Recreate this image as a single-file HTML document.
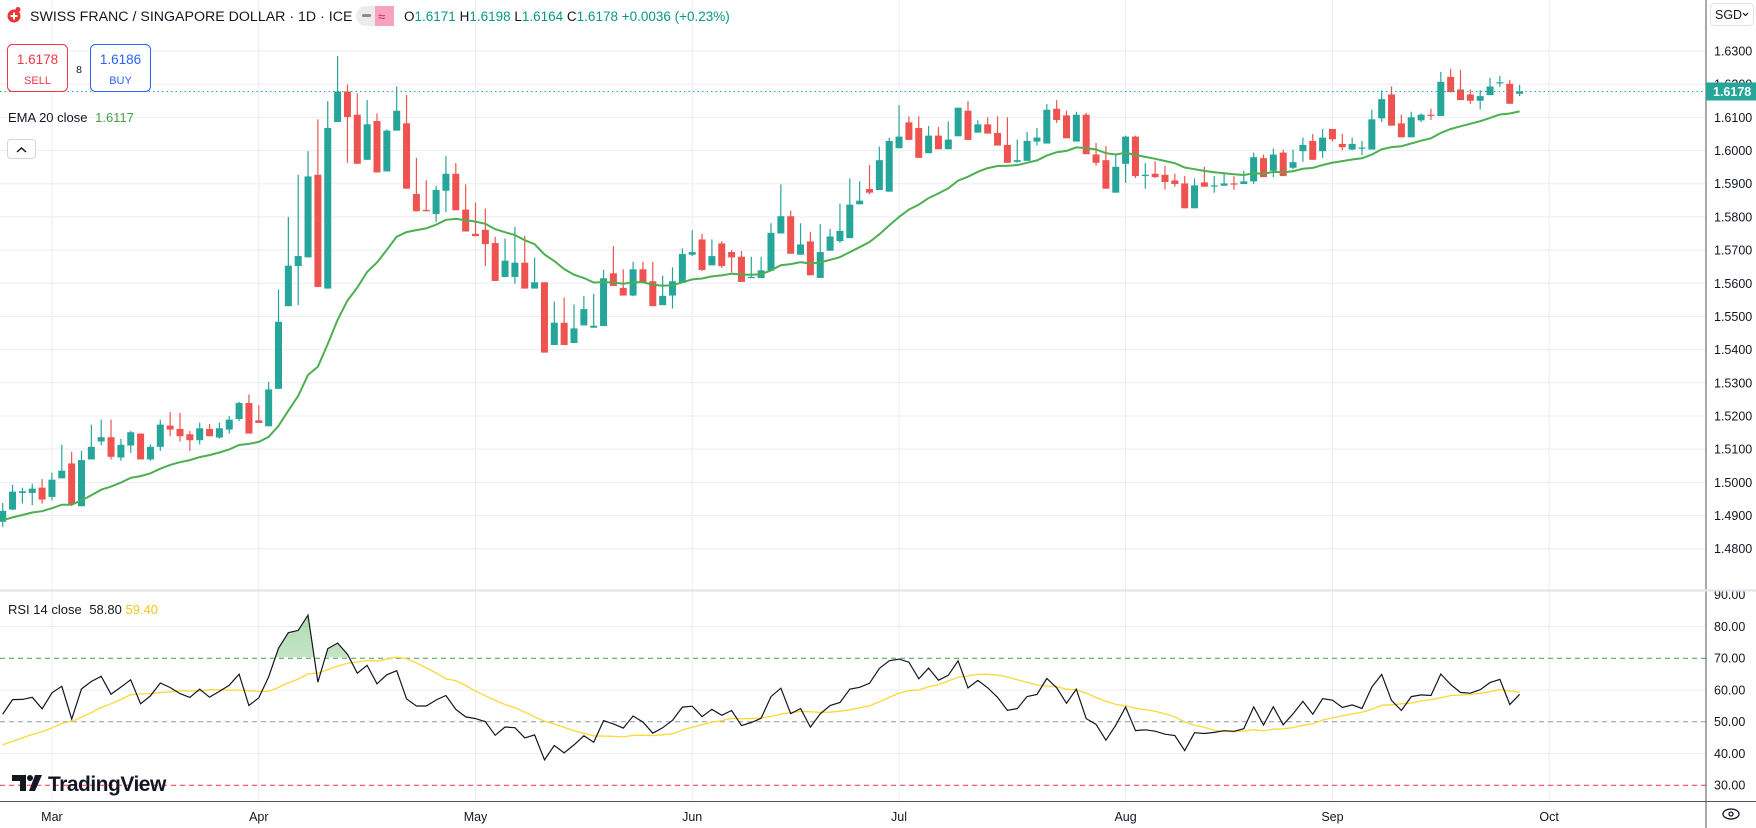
<!DOCTYPE html>
<html><head><meta charset="utf-8"><style>
html,body{margin:0;padding:0;background:#fff;}
svg{display:block;font-family:"Liberation Sans",sans-serif;}
</style></head><body>
<svg id="chart" width="1756" height="828" viewBox="0 0 1756 828" xmlns="http://www.w3.org/2000/svg">
<defs>
<clipPath id="obClip"><rect x="0" y="0" width="1706" height="657.3"/></clipPath>
<linearGradient id="obGrad" x1="0" y1="0" x2="0" y2="1"><stop offset="0" stop-color="#4caf50" stop-opacity="0.45"/><stop offset="1" stop-color="#4caf50" stop-opacity="0.03"/></linearGradient>
</defs>
<g id="grid"></g>
<g id="rsiPane"></g>
<g id="candles"></g>
<g id="axes"></g>

<g>
  <circle cx="14" cy="16" r="6.5" fill="#e53935"/>
  <path d="M14 12.5v7M10.5 16h7" stroke="#fff" stroke-width="2"/>
  <circle cx="18" cy="9.5" r="2.5" fill="#e53935"/>
  <text x="30" y="21" font-size="14.2" fill="#131722">SWISS FRANC / SINGAPORE DOLLAR · 1D · ICE</text>
  <rect x="356" y="6" width="38" height="20" rx="10" fill="#ececec"/>
  <rect x="375" y="6" width="19" height="20" fill="#f7a3c0"/>
  <rect x="362" y="14" width="9" height="3" rx="1.5" fill="#8a8a8a"/>
  <text x="378" y="21" font-size="13" fill="#d81b60">≈</text>
  <text x="404" y="21" font-size="13.5" fill="#089981"><tspan fill="#131722">O</tspan>1.6171 <tspan fill="#131722">H</tspan>1.6198 <tspan fill="#131722">L</tspan>1.6164 <tspan fill="#131722">C</tspan>1.6178 +0.0036 (+0.23%)</text>
  <g>
    <rect x="7.5" y="44.5" width="60" height="47" rx="5" fill="#fff" stroke="#f23645"/>
    <text x="37.5" y="64" font-size="13.5" fill="#f23645" text-anchor="middle">1.6178</text>
    <text x="37.5" y="84" font-size="11" fill="#f23645" text-anchor="middle">SELL</text>
  </g>
  <text x="79" y="73" font-size="10.5" fill="#131722" text-anchor="middle">8</text>
  <g>
    <rect x="90.5" y="44.5" width="60" height="47" rx="5" fill="#fff" stroke="#2962ff"/>
    <text x="120.5" y="64" font-size="13.5" fill="#2962ff" text-anchor="middle">1.6186</text>
    <text x="120.5" y="84" font-size="11" fill="#2962ff" text-anchor="middle">BUY</text>
  </g>
  <text x="8" y="122" font-size="13" fill="#131722">EMA 20 close <tspan fill="#43a047" dx="4">1.6117</tspan></text>
  <g>
    <rect x="7.5" y="139.5" width="28" height="19" rx="3" fill="#fff" stroke="#d6d6d6"/>
    <path d="M17 152 L21.5 148 L26 152" fill="none" stroke="#131722" stroke-width="1.5"/>
  </g>
  <text x="8" y="614" font-size="13" fill="#131722">RSI 14 close <tspan dx="4">58.80</tspan> <tspan fill="#f5c518">59.40</tspan></text>
  <g>
    <path d="M12 775h14v16h-6v-10h-8z" fill="#131722"/>
    <circle cx="30" cy="778" r="3" fill="#131722"/>
    <path d="M35 775h7l-7 16h-6z" fill="#131722"/>
    <text x="48" y="791" font-size="21" font-weight="bold" fill="#131722" letter-spacing="-0.5">TradingView</text>
  </g>
  <g>
    <rect x="1710.5" y="3.5" width="43" height="22" rx="4" fill="#fff" stroke="#e0e3eb"/>
    <text x="1715" y="19" font-size="12.5" fill="#131722">SGD</text>
    <path d="M1743 13l2.5 2.5 2.5-2.5" fill="none" stroke="#131722" stroke-width="1.2"/>
  </g>
  <g>
    <ellipse cx="1731" cy="814" rx="8" ry="5" fill="none" stroke="#131722" stroke-width="1.3"/>
    <circle cx="1731" cy="814" r="2" fill="none" stroke="#131722" stroke-width="1.3"/>
  </g>
</g>
</svg>
<script>
const opens=[1.4881,1.4918,1.4968,1.4968,1.4984,1.4956,1.5012,1.5057,1.4928,1.5069,1.5123,1.5136,1.5075,1.5111,1.5147,1.5069,1.5107,1.5171,1.5161,1.5145,1.5127,1.5161,1.5135,1.5159,1.5191,1.5239,1.5187,1.5169,1.5282,1.5531,1.5652,1.5678,1.5927,1.5584,1.6086,1.6178,1.6108,1.5972,1.6089,1.5937,1.6060,1.6082,1.5869,1.5821,1.5809,1.5879,1.5930,1.5822,1.5749,1.5761,1.5721,1.5619,1.5619,1.5662,1.5584,1.5603,1.5414,1.5481,1.5420,1.5473,1.5466,1.5471,1.5630,1.5586,1.5563,1.5642,1.5606,1.5534,1.5563,1.5601,1.5686,1.5732,1.5654,1.5720,1.5694,1.5680,1.5616,1.5616,1.5638,1.5750,1.5802,1.5686,1.5726,1.5616,1.5698,1.5727,1.5736,1.5838,1.5884,1.5881,1.5876,1.6007,1.6085,1.6068,1.5992,1.6045,1.6004,1.6043,1.6120,1.6054,1.6079,1.6053,1.6017,1.5966,1.5969,1.6027,1.6021,1.6126,1.6106,1.6027,1.6108,1.5988,1.5971,1.5873,1.5960,1.6042,1.5923,1.5930,1.5927,1.5910,1.5901,1.5826,1.5904,1.5893,1.5894,1.5901,1.5899,1.5907,1.5977,1.5939,1.5994,1.5948,1.5998,1.6029,1.5998,1.6065,1.6020,1.6003,1.6007,1.6003,1.6097,1.6169,1.6082,1.6040,1.6091,1.6108,1.6104,1.6222,1.6184,1.6169,1.6150,1.6167,1.6203,1.6201,1.6171];
const highs=[1.4938,1.4993,1.4984,1.4996,1.5010,1.5029,1.5113,1.5092,1.5095,1.5174,1.5189,1.5189,1.5131,1.5155,1.5147,1.5115,1.5189,1.5212,1.5209,1.5155,1.5180,1.5176,1.5180,1.5199,1.5243,1.5265,1.5233,1.5303,1.5581,1.5800,1.5927,1.5998,1.6094,1.6149,1.6285,1.6199,1.6172,1.6152,1.6112,1.6064,1.6193,1.6167,1.5978,1.5910,1.5894,1.5983,1.5962,1.5898,1.5843,1.5825,1.5740,1.5735,1.5770,1.5743,1.5677,1.5603,1.5545,1.5557,1.5536,1.5562,1.5568,1.5640,1.5712,1.5642,1.5665,1.5665,1.5665,1.5623,1.5648,1.5705,1.5760,1.5749,1.5732,1.5727,1.5700,1.5697,1.5680,1.5680,1.5781,1.5898,1.5819,1.5781,1.5755,1.5778,1.5764,1.5840,1.5916,1.5907,1.5956,1.6012,1.6039,1.6137,1.6103,1.6103,1.6074,1.6071,1.6088,1.6129,1.6149,1.6091,1.6100,1.6103,1.6100,1.6033,1.6056,1.6068,1.6140,1.6152,1.6120,1.6117,1.6114,1.6023,1.6014,1.5991,1.6045,1.6045,1.5962,1.5968,1.5954,1.5930,1.5923,1.5916,1.5951,1.5923,1.5930,1.5923,1.5939,1.5994,1.5988,1.6006,1.6003,1.6003,1.6039,1.6050,1.6065,1.6065,1.6050,1.6039,1.6029,1.6123,1.6181,1.6193,1.6108,1.6117,1.6112,1.6126,1.6237,1.6246,1.6243,1.6184,1.6182,1.6219,1.6225,1.6213,1.6198];
const lows=[1.4866,1.4916,1.4936,1.4931,1.4936,1.4946,1.5012,1.4928,1.4928,1.5069,1.5112,1.5069,1.5065,1.5089,1.5069,1.5065,1.5095,1.5139,1.5123,1.5095,1.5114,1.5139,1.5132,1.5147,1.5185,1.5147,1.5179,1.5169,1.5282,1.5531,1.5534,1.5678,1.5589,1.5584,1.6086,1.5963,1.5960,1.5972,1.5934,1.5937,1.6060,1.5885,1.5817,1.5817,1.5785,1.5814,1.5820,1.5756,1.5742,1.5652,1.5607,1.5619,1.5599,1.5584,1.5584,1.5391,1.5414,1.5414,1.5420,1.5473,1.5466,1.5471,1.5592,1.5563,1.5561,1.5603,1.5531,1.5534,1.5524,1.5601,1.5682,1.5637,1.5654,1.5646,1.5632,1.5604,1.5616,1.5616,1.5638,1.5750,1.5689,1.5686,1.5624,1.5616,1.5698,1.5722,1.5736,1.5838,1.5868,1.5881,1.5876,1.6007,1.6032,1.5978,1.5992,1.6004,1.6004,1.6043,1.6032,1.6054,1.6051,1.6015,1.5963,1.5963,1.5969,1.6015,1.6021,1.6083,1.6037,1.6027,1.5989,1.5954,1.5885,1.5873,1.5902,1.5917,1.5885,1.5917,1.5882,1.5891,1.5826,1.5826,1.5891,1.5873,1.5894,1.5882,1.5899,1.5899,1.5920,1.5920,1.5923,1.5943,1.5966,1.5972,1.5978,1.6027,1.6001,1.6001,1.5986,1.6003,1.6086,1.6075,1.6040,1.6040,1.6086,1.6092,1.6104,1.6176,1.6152,1.6141,1.6124,1.6167,1.6192,1.6141,1.6164];
const closes=[1.4914,1.4972,1.4973,1.4981,1.4948,1.5008,1.5035,1.4934,1.5067,1.5107,1.5136,1.5077,1.5113,1.5151,1.5069,1.5107,1.5174,1.5159,1.5139,1.5127,1.5163,1.5139,1.5163,1.5189,1.5239,1.5147,1.5179,1.5280,1.5484,1.5653,1.5682,1.5922,1.5589,1.6068,1.6178,1.6101,1.5960,1.6079,1.5934,1.6060,1.6120,1.5885,1.5817,1.5817,1.5881,1.5930,1.5820,1.5756,1.5742,1.5718,1.5607,1.5668,1.5662,1.5584,1.5603,1.5391,1.5481,1.5414,1.5464,1.5522,1.5472,1.5615,1.5592,1.5563,1.5642,1.5603,1.5531,1.5562,1.5606,1.5688,1.5694,1.5640,1.5682,1.5652,1.5678,1.5604,1.5619,1.5639,1.5752,1.5802,1.5689,1.5717,1.5624,1.5694,1.5741,1.5758,1.5837,1.5849,1.5873,1.5971,1.6029,1.6042,1.6032,1.5978,1.6045,1.6004,1.6033,1.6129,1.6032,1.6079,1.6051,1.6015,1.5963,1.5971,1.6029,1.6039,1.6123,1.6092,1.6037,1.6108,1.5989,1.5963,1.5885,1.5951,1.6042,1.5923,1.5927,1.5920,1.5905,1.5899,1.5826,1.5895,1.5891,1.5895,1.5901,1.5899,1.5907,1.5980,1.5920,1.5988,1.5923,1.5965,1.6017,1.5972,1.6039,1.6034,1.6010,1.6020,1.6009,1.6094,1.6155,1.6075,1.6040,1.6100,1.6108,1.6106,1.6207,1.6176,1.6152,1.6150,1.6164,1.6193,1.6206,1.6141,1.6178];
const priceTicks=["1.6300","1.6200","1.6100","1.6000","1.5900","1.5800","1.5700","1.5600","1.5500","1.5400","1.5300","1.5200","1.5100","1.5000","1.4900","1.4800"];
const rsiTicks=["90.00","80.00","70.00","60.00","50.00","40.00","30.00"];
const monthLabels=["Mar","Apr","May","Jun","Jul","Aug","Sep","Oct"];
const monthBarIndex=[5,26,48,70,91,114,135,157];
const emaSeed=1.4886;
const rsiSeedGain=0.0022, rsiSeedLoss=0.0020, rsiMaSeed=42;
const lastPrice=1.6178;

const NS="http://www.w3.org/2000/svg";
const PANE_R=1706;
function xB(i){return 2.7+i*9.85;}
function yP(p){return 51+(1.63-p)*3318;}
function yR(v){return 721.7-(v-50)*3.175;}
function mk(tag,attrs,parent){const e=document.createElementNS(NS,tag);for(const a in attrs)e.setAttribute(a,attrs[a]);parent.appendChild(e);return e;}

const grid=document.getElementById('grid');
const rsiG=document.getElementById('rsiPane');
const cG=document.getElementById('candles');
const ax=document.getElementById('axes');

priceTicks.forEach(t=>{
  const y=yP(parseFloat(t));
  const l=mk('line',{x1:0,x2:PANE_R,y1:y,y2:y,stroke:'#eaeef3','stroke-width':1},grid);
  
  
  const tx=mk('text',{x:1714,y:y+4.5,'font-size':12.5,fill:'#131722'},ax);
  tx.textContent=t;
  
  
});
monthLabels.forEach((m,j)=>{
  const x=xB(monthBarIndex[j]);
  const l=mk('line',{x1:x,x2:x,y1:0,y2:801,stroke:'#eaeef3','stroke-width':1},grid);
  
  
  const tx=mk('text',{x:x,y:821,'font-size':12.5,fill:'#131722','text-anchor':'middle'},ax);
  tx.textContent=m;
  
  
});
rsiTicks.forEach(t=>{
  const v=parseFloat(t), y=yR(v);
  let attrs={x1:0,x2:PANE_R,y1:y,y2:y,stroke:'#eaeef3','stroke-width':1};
  if(v===70)attrs={x1:0,x2:PANE_R,y1:y,y2:y,stroke:'#43a047','stroke-width':1,'stroke-dasharray':'5,4'};
  if(v===50)attrs={x1:0,x2:PANE_R,y1:y,y2:y,stroke:'#9598a1','stroke-width':1,'stroke-dasharray':'5,4'};
  if(v===30)attrs={x1:0,x2:PANE_R,y1:y,y2:y,stroke:'#f23645','stroke-width':1,'stroke-dasharray':'5,4'};
  if(v!==90){const l=mk('line',attrs,grid);
  
  }
  const tx=mk('text',{x:1714,y:y+4.5,'font-size':12.5,fill:'#131722'},ax);
  tx.textContent=t;
  
  
});

[{x1:PANE_R,x2:PANE_R,y1:0,y2:828,stroke:'#50535e','stroke-width':1},
 {x1:0,x2:1756,y1:590.5,y2:590.5,stroke:'#e0e3eb','stroke-width':2},
 {x1:0,x2:1756,y1:801.5,y2:801.5,stroke:'#50535e','stroke-width':1}].forEach(a=>{
  const l=mk('line',a,ax);
  
  
});

const up='#26a69a', dn='#ef5350';
for(let i=0;i<closes.length;i++){
  const col=closes[i]>=opens[i]?up:dn;
  const x=xB(i);
  const w=mk('line',{x1:x,x2:x,y1:yP(highs[i]),y2:yP(lows[i]),stroke:col,'stroke-width':1.2},cG);
  
  
  const t=Math.min(yP(opens[i]),yP(closes[i])), b=Math.max(yP(opens[i]),yP(closes[i]));
  const r=mk('rect',{x:x-3.5,y:t,width:7,height:Math.max(1.2,b-t),fill:col},cG);
  
  
}
let ema=emaSeed; const ep=[];
const kE=2/21;
for(let i=0;i<closes.length;i++){ema=i===0?emaSeed:closes[i]*kE+ema*(1-kE);ep.push(xB(i).toFixed(1)+','+yP(ema).toFixed(1));}
const emaL=mk('polyline',{points:ep.join(' '),fill:'none',stroke:'#4caf50','stroke-width':2},cG);



const ly=yP(lastPrice);
const dl=mk('line',{x1:0,x2:PANE_R,y1:ly,y2:ly,stroke:'#26a69a','stroke-width':1,'stroke-dasharray':'1.5,3'},cG);


const lb=mk('rect',{x:PANE_R,y:ly-9,width:50,height:18,fill:'#26a69a'},ax);


const lt=mk('text',{x:1713,y:ly+4.5,'font-size':12.5,'font-weight':'bold',fill:'#fff'},ax);
lt.textContent=lastPrice.toFixed(4);



let ag=rsiSeedGain, al=rsiSeedLoss; const rsi=[];
for(let i=0;i<closes.length;i++){
  const ch=i===0?0:closes[i]-closes[i-1];
  if(i>0){ag=(ag*13+Math.max(ch,0))/14;al=(al*13+Math.max(-ch,0))/14;}
  rsi.push(100-100/(1+ag/al));
}
const rpts=rsi.map((v,i)=>xB(i).toFixed(1)+','+yR(v).toFixed(1));
const area=mk('polygon',{points:xB(0)+','+yR(70)+' '+rpts.join(' ')+' '+xB(rsi.length-1)+','+yR(70),fill:'url(#obGrad)','clip-path':'url(#obClip)'},rsiG);


const ma=[];
for(let i=0;i<rsi.length;i++){let s=0;for(let j=i-13;j<=i;j++)s+=j<0?rsiMaSeed:rsi[j];ma.push(s/14);}
const maL=mk('polyline',{points:ma.map((v,i)=>xB(i).toFixed(1)+','+yR(v).toFixed(1)).join(' '),fill:'none',stroke:'#fdd835','stroke-width':1.3},rsiG);


const rL=mk('polyline',{points:rpts.join(' '),fill:'none',stroke:'#131722','stroke-width':1.2},rsiG);


</script>
</body></html>
